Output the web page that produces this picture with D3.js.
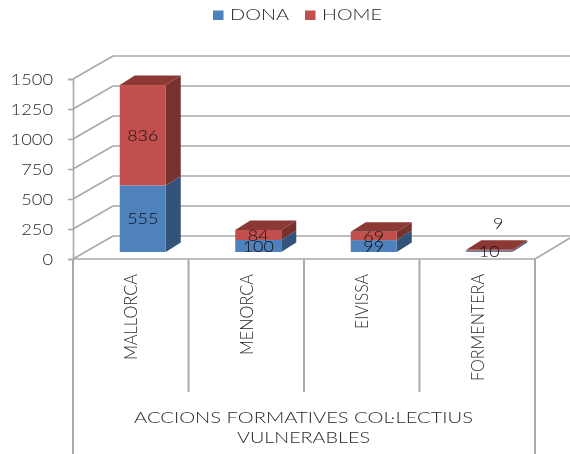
<!DOCTYPE html>
<html><head><meta charset="utf-8">
<script src="https://cdn.jsdelivr.net/npm/d3@7/dist/d3.min.js"></script>
<style>html,body{margin:0;background:#fff;overflow:hidden}svg{display:block}text{font-family:Lato,"Open Sans",sans-serif;font-weight:300;fill:#2a2a2a}</style>
</head><body><svg id="c" width="570" height="454"></svg>
<script>
const categories = ["MALLORCA","MENORCA","EIVISSA","FORMENTERA"];
const dona = [555,100,99,10];
const home = [836,84,69,9];
const yTicks = [0,250,500,750,1000,1250,1500];
const seriesNames = ["DONA","HOME"];
const axisTitle = ["ACCIONS FORMATIVES COL·LECTIUS","VULNERABLES"];

const svg = d3.select("#c");
const defs = svg.append("defs");
defs.append("filter").attr("id","soft").append("feGaussianBlur").attr("stdDeviation",0.35);
const root = svg.append("g").attr("filter","url(#soft)");

const X0=73, X1=535, Y0=259, Y1=79, DX=40, DY=23;
const GRID="#a9a9a9";
const y = d3.scaleLinear().domain([0,1500]).range([Y0,Y1]);
const x = d3.scaleBand().domain(categories).range([X0,X1]).padding(0);
const line=(x1,y1,x2,y2,w=1.6)=>root.append("line").attr("x1",x1).attr("y1",y1).attr("x2",x2).attr("y2",y2).attr("stroke",GRID).attr("stroke-width",w);

// walls
yTicks.forEach(t=>{
  line(X0,y(t),X0+DX,y(t)-DY);
  line(X0+DX,y(t)-DY,570,y(t)-DY);
});
line(X0,Y0,X1,Y0);
line(X1,Y0,570,Y0-21);

// y axis
const yAxis = root.append("g").attr("transform",`translate(${X0},0)`).call(d3.axisLeft(y).tickValues(yTicks).tickSize(5).tickPadding(15).tickFormat(d3.format("d")));
yAxis.select(".domain").attr("stroke",GRID).attr("stroke-width",1.6);
yAxis.selectAll(".tick line").attr("stroke",GRID).attr("stroke-width",1.6);
yAxis.selectAll("text").style("font-size","16px").style("font-family","Lato").style("fill","#2a2a2a").attr("dy","0.36em")
  .attr("textLength",d=>String(d).length*10.6).attr("lengthAdjust","spacingAndGlyphs");

// category separators
x.domain().concat([null]).forEach((c,i)=>{
  const px = c===null ? X1 : x(c);
  const outer = i===0||c===null;
  line(px,Y0,px,outer?454:392,2);
});

// bars
const BAR=46, OFF=12, LIFT=7, BDX=15, BDY=9.5;
const barX=c=>x(c)+x.bandwidth()/2+OFF-BAR/2;
const segs=[];
categories.forEach((c,i)=>{
  segs.push({c,s:0,a:0,b:dona[i],v:dona[i]});
  segs.push({c,s:1,a:dona[i],b:dona[i]+home[i],v:home[i]});
});
const FRONT=["#4f81bd","#c0504d"], SIDE=["#31527a","#77312f"], TOP=["#3d659a","#8c3836"];
const gBars=root.append("g");
segs.forEach(d=>{
  const l=barX(d.c), r=l+BAR, b=y(d.a)-LIFT, t=y(d.b)-LIFT;
  const g=gBars.append("g");
  g.append("polygon").attr("points",[[r,b],[r+BDX,b-BDY],[r+BDX,t-BDY],[r,t]].join(" ")).attr("fill",SIDE[d.s]);
  g.append("rect").attr("x",l).attr("y",t).attr("width",BAR).attr("height",Math.max(b-t,0.5)).attr("fill",FRONT[d.s]);
  if(d.s===1) g.append("polygon").attr("points",[[l,t],[r,t],[r+BDX,t-BDY],[l+BDX,t-BDY]].join(" ")).attr("fill",TOP[d.s]);
});

// value labels (the Formentera HOME label sits apart from its sliver)
const nudge = {"FORMENTERA|1":[9,-27]};
segs.forEach(d=>{
  const n=nudge[d.c+"|"+d.s]||[0,0];
  const digits=String(d.v).length;
  root.append("text").attr("x",barX(d.c)+BAR/2+n[0]).attr("y",(y(d.a)+y(d.b))/2-LIFT+n[1])
    .attr("dy","0.36em").attr("text-anchor","middle").style("font-size","16px").style("fill","#111")
    .attr("textLength",digits*10.4).attr("lengthAdjust","spacingAndGlyphs").text(d.v);
});

// category labels
const catLen=[86,81,55,107];
categories.forEach((c,i)=>{
  root.append("text").attr("transform",`translate(${x(c)+x.bandwidth()/2},274) rotate(-90)`)
    .attr("text-anchor","end").attr("dy","0.36em").style("font-size","18px")
    .attr("textLength",catLen[i]).attr("lengthAdjust","spacingAndGlyphs").text(c);
});

// axis title
const titleLen=[339,133];
axisTitle.forEach((t,i)=>{
  root.append("text").attr("x",303.5).attr("y",418+i*19.5).attr("dy","0.36em").attr("text-anchor","middle")
    .style("font-size","15px").attr("textLength",titleLen[i]).attr("lengthAdjust","spacingAndGlyphs").text(t);
});

// legend
const legX=[213,305], legLen=[59,60];
seriesNames.forEach((n,i)=>{
  root.append("rect").attr("x",legX[i]).attr("y",10.5).attr("width",10.5).attr("height",9.5).attr("fill",FRONT[i]);
  root.append("text").attr("x",legX[i]+17).attr("y",15).attr("dy","0.36em").style("font-size","15px")
    .attr("textLength",legLen[i]).attr("lengthAdjust","spacingAndGlyphs").text(n);
});
</script></body></html>
